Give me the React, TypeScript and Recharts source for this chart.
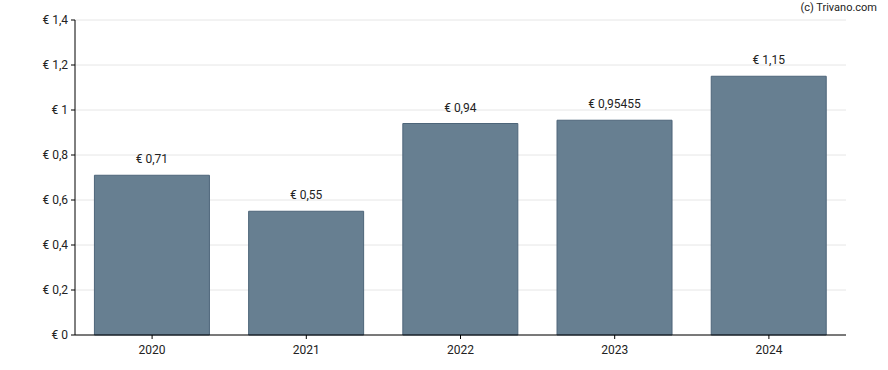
import React from 'react';
import { BarChart, Bar, XAxis, YAxis, CartesianGrid, LabelList } from 'recharts';

// dividend per year
const years = ['2020', '2021', '2022', '2023', '2024'];
const dividends = [0.71, 0.55, 0.94, 0.95455, 1.15];
const yTicks = [0, 0.2, 0.4, 0.6, 0.8, 1, 1.2, 1.4];

const data = years.map((year, i) => ({ year, value: dividends[i] }));

const euro = (v: number) => `€ ${String(v).replace('.', ',')}`;

export default function App() {
  return (
    <div
      style={{
        position: 'absolute',
        left: 0,
        top: 0,
        width: 888,
        height: 370,
        background: '#fff',
        fontFamily: 'Roboto, sans-serif',
      }}
    >
      <div
        style={{
          position: 'absolute',
          right: 11,
          top: 1,
          fontSize: 11,
          color: '#222',
        }}
      >
        (c) Trivano.com
      </div>
      <BarChart
        width={888}
        height={370}
        data={data}
        margin={{ top: 20, right: 42, bottom: 0, left: 0 }}
        barCategoryGap="12.6%"
      >
        <CartesianGrid vertical={false} stroke="#e6e6e6" />
        <XAxis
          dataKey="year"
          height={35}
          axisLine={{ stroke: '#000' }}
          tickLine={{ stroke: '#000' }}
          tickSize={4}
          tickMargin={6}
          tick={{ fontSize: 12, fill: '#222' }}
        />
        <YAxis
          width={75}
          domain={[0, 1.4]}
          ticks={yTicks}
          interval={0}
          tickFormatter={euro}
          axisLine={{ stroke: '#000' }}
          tickLine={{ stroke: '#000' }}
          tickSize={4}
          tickMargin={3}
          tick={{ fontSize: 12, fill: '#222' }}
        />
        <Bar
          dataKey="value"
          fill="#677f91"
          stroke="#4d6579"
          strokeWidth={1}
          isAnimationActive={false}
        >
          <LabelList
            dataKey="value"
            position="top"
            offset={12}
            formatter={(v: any) => euro(v as number)}
            style={{ fontSize: 12, fill: '#222' }}
          />
        </Bar>
      </BarChart>
    </div>
  );
}
